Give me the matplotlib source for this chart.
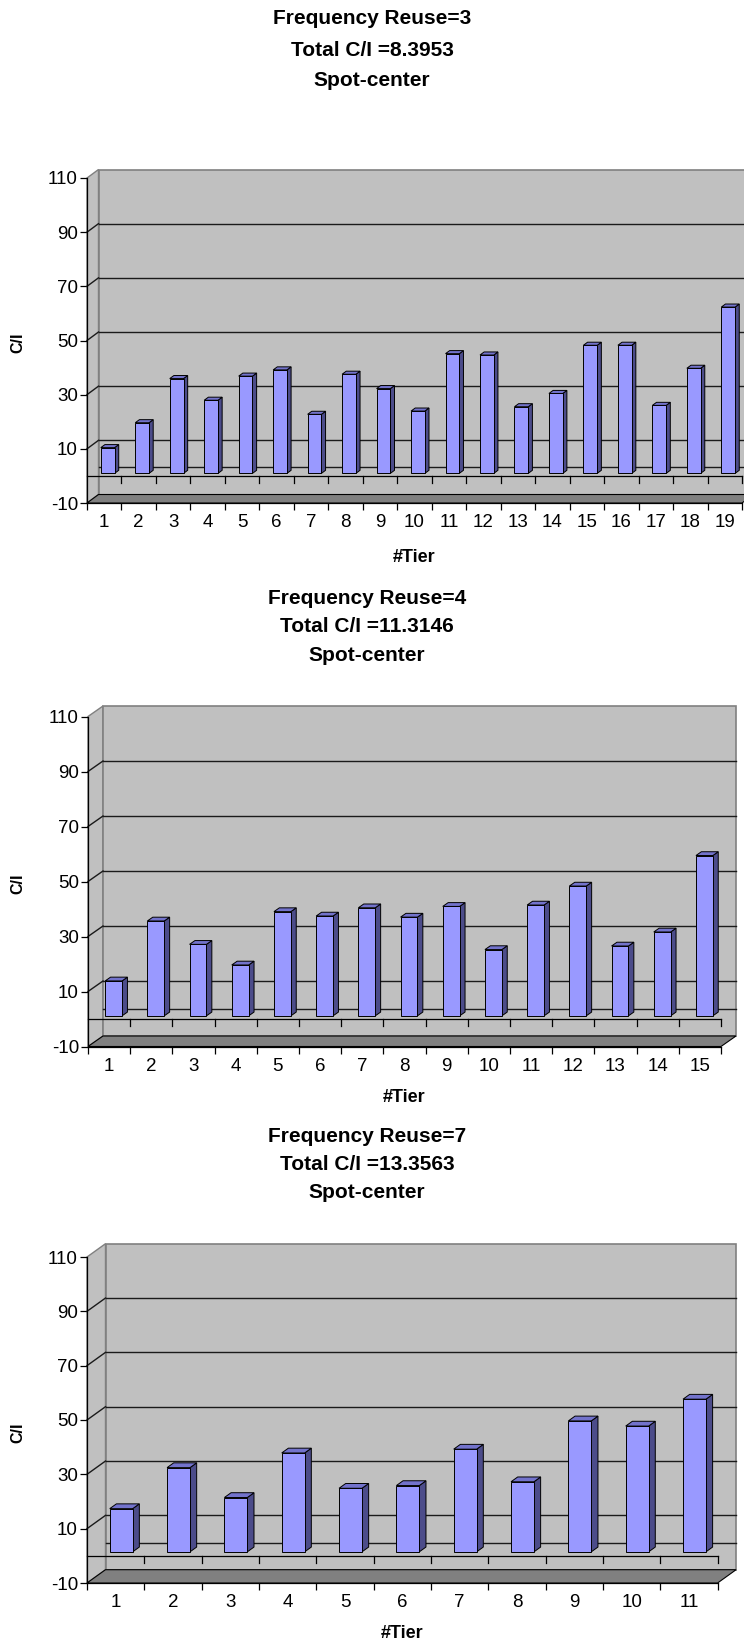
import numpy as np
import matplotlib as mpl
mpl.use('Agg')
import matplotlib.pyplot as plt
from matplotlib.patches import Polygon

plt.rcParams['font.family'] = ['Liberation Sans', 'DejaVu Sans']
plt.rcParams['axes.unicode_minus'] = False

# C/I per interfering tier, one series per reuse factor
reuse = [3, 4, 7]
total_ci = ['8.3953', '11.3146', '13.3563']
ci_reuse3 = [9.5, 18.7, 35.0, 27.0, 35.9, 38.2, 21.8, 36.6, 31.3, 23.0,
             44.2, 43.7, 24.6, 29.5, 47.3, 47.3, 25.1, 38.8, 61.4]
ci_reuse4 = [12.7, 34.5, 26.0, 18.5, 37.9, 36.3, 39.3, 35.9, 39.8, 24.1,
             40.3, 47.2, 25.4, 30.5, 58.3]
ci_reuse7 = [15.9, 31.0, 20.0, 36.4, 23.4, 24.4, 37.8, 25.8, 48.2, 46.3, 56.2]
series = [ci_reuse3, ci_reuse4, ci_reuse7]

yticks = [-10, 10, 30, 50, 70, 90, 110]
grid_vals = [0, 10, 30, 50, 70, 90]
YMIN, YMAX = -10, 110

W, H = 744, 1645
DPI = 100

# pixel layout of each panel: front x0, x1, y(-10), y(110), depth dx, dy,
# title lines y, C/I label y, #Tier label y, title centre x
panels = [
    dict(x0=87, x1=742, yb=503, yt=178, dx=11.5, dy=8.5,
         ty=[19, 50, 80], ylab=343, xlab=557, tx=372),
    dict(x0=88, x1=721, yb=1046.5, yt=716.5, dx=15.0, dy=10.5,
         ty=[598, 626, 655], ylab=884, xlab=1098, tx=367),
    dict(x0=87, x1=717.6, yb=1583, yt=1257, dx=18.5, dy=13.3,
         ty=[1136, 1165, 1193], ylab=1433, xlab=1634, tx=367),
]

FRONT = '#9999FF'
SIDE = '#4C4C8A'
TOP = '#7373CC'
WALL = '#C0C0C0'
FLOOR = '#808080'

fig = plt.figure(figsize=(W / DPI, H / DPI), dpi=DPI)
fig.patch.set_facecolor('white')


def fx(px):
    return px / W


def fy(py):
    return 1 - py / H


def draw_panel(p, values, r, tot):
    n = len(values)
    ax = fig.add_axes([fx(p['x0']), fy(p['yb']), fx(p['x1'] - p['x0']),
                       (p['yb'] - p['yt']) / H])
    ax.set_xlim(0, n)
    ax.set_ylim(YMIN, YMAX)
    ax.patch.set_visible(False)
    for s in ['top', 'right']:
        ax.spines[s].set_visible(False)
    ax.spines['left'].set_linewidth(0.9)
    ax.spines['bottom'].set_linewidth(0.9)

    catw = (p['x1'] - p['x0']) / n
    ppu = (p['yb'] - p['yt']) / (YMAX - YMIN)
    ddx = p['dx'] / catw
    ddy = p['dy'] / ppu

    kw = dict(clip_on=False)
    # side wall, back wall, floor
    ax.add_patch(Polygon([(0, YMIN), (ddx, YMIN + ddy), (ddx, YMAX + ddy), (0, YMAX)],
                         facecolor=WALL, edgecolor='#808080', lw=1.0, zorder=1, **kw))
    ax.add_patch(Polygon([(ddx, YMIN + ddy), (n + ddx, YMIN + ddy),
                          (n + ddx, YMAX + ddy), (ddx, YMAX + ddy)],
                         facecolor=WALL, edgecolor='#808080', lw=1.2, zorder=1, **kw))
    for g in grid_vals:
        ax.plot([ddx, n + ddx], [g + ddy, g + ddy], color='#1A1A1A', lw=1.0, zorder=2, **kw)
        if g != 0:
            ax.plot([0, ddx], [g, g + ddy], color='#1A1A1A', lw=1.0, zorder=2, **kw)
    ax.add_patch(Polygon([(0, YMIN), (n, YMIN), (n + ddx, YMIN + ddy), (ddx, YMIN + ddy)],
                         facecolor=FLOOR, edgecolor='black', lw=0.8, zorder=3, **kw))

    # category axis at value 0 on the front plane
    ax.plot([0, n], [0, 0], color='black', lw=0.9, zorder=3, **kw)
    tick_drop = 7 / ppu
    for b in range(1, n + 1):
        ax.plot([b, b], [0, -tick_drop], color='black', lw=0.9, zorder=3, **kw)

    # 3-D columns
    f0, f1 = 0.30, 0.66
    bw = 0.4
    centers = np.arange(n) + 0.5
    ax.bar(centers + f0 * ddx, values, width=bw, bottom=f0 * ddy,
           color=FRONT, edgecolor='black', lw=0.7, zorder=5, clip_on=False)
    for c, v in zip(centers, values):
        xl = c - bw / 2
        xr = c + bw / 2
        ax.add_patch(Polygon([(xr + f0 * ddx, f0 * ddy), (xr + f1 * ddx, f1 * ddy),
                              (xr + f1 * ddx, v + f1 * ddy), (xr + f0 * ddx, v + f0 * ddy)],
                             facecolor=SIDE, edgecolor='black', lw=0.7, zorder=4, **kw))
        ax.add_patch(Polygon([(xl + f0 * ddx, v + f0 * ddy), (xr + f0 * ddx, v + f0 * ddy),
                              (xr + f1 * ddx, v + f1 * ddy), (xl + f1 * ddx, v + f1 * ddy)],
                             facecolor=TOP, edgecolor='black', lw=0.7, zorder=4, **kw))

    ax.set_yticks(yticks)
    ax.tick_params(axis='y', direction='out', length=5, width=0.9, pad=1.5, labelsize=13.5)
    ax.set_xticks(centers)
    ax.set_xticklabels([str(i + 1) for i in range(n)])
    ax.set_xticks(np.arange(n + 1), minor=True)
    ax.tick_params(axis='x', which='major', length=0, pad=8, labelsize=13.5)
    ax.tick_params(axis='x', which='minor', direction='out', length=5, width=0.9)

    tx = fx(p['tx'])
    lines = ['Frequency Reuse=%d' % r, 'Total C/I =%s' % tot, 'Spot-center']
    for t, yy in zip(lines, p['ty']):
        fig.text(tx, fy(yy), t, ha='center', va='center', fontsize=15, fontweight='bold')
    fig.text(fx(18), fy(p['ylab']), 'C/I', rotation=90, ha='center', va='center',
             fontsize=11.5, fontweight='bold')
    fig.text(fx((p['x0'] + p['x1']) / 2), fy(p['xlab']), '#Tier', ha='center', va='center',
             fontsize=13, fontweight='bold')


for p, vals, r, tot in zip(panels, series, reuse, total_ci):
    draw_panel(p, vals, r, tot)

fig.savefig('out.png', dpi=DPI)
